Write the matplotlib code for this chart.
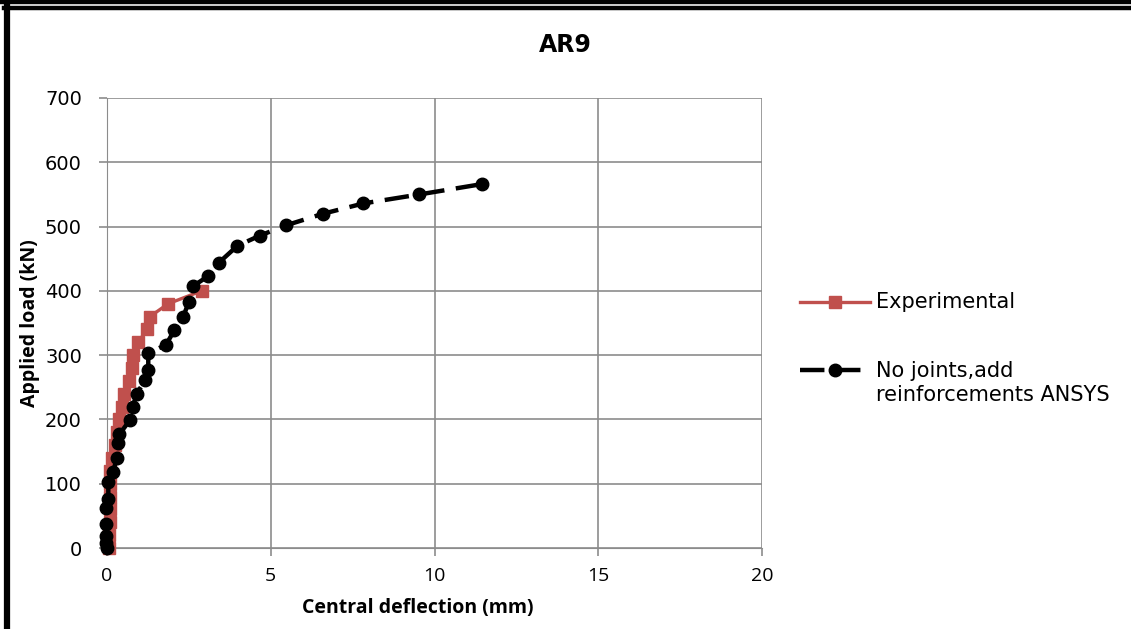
import matplotlib.pyplot as plt
from matplotlib.lines import Line2D

# data
exp_x = [0.05, 0.06, 0.08, 0.09, 0.09, 0.09, 0.09, 0.14, 0.24, 0.30, 0.38, 0.45, 0.53, 0.68,
         0.75, 0.80, 0.96, 1.21, 1.31, 1.87, 2.89]
exp_y = [0, 20, 40, 60, 80, 100, 120, 140, 160, 180, 200, 220, 240, 260,
         280, 300, 320, 340, 360, 380, 400]

ans_x = [0.0, -0.02, -0.03, -0.03, -0.03, 0.04, 0.04, 0.19, 0.30, 0.35, 0.38, 0.70, 0.78, 0.91,
         1.16, 1.26, 1.26, 1.80, 2.06, 2.33, 2.50, 2.62, 3.09, 3.42, 3.98, 4.67, 5.47, 6.60,
         7.83, 9.54, 11.44]
ans_y = [0, 8, 19, 38, 62, 77, 103, 119, 140, 163, 177, 199, 219, 240,
         261, 277, 303, 316, 339, 360, 383, 407, 423, 444, 470, 486, 502, 520,
         536, 550, 566]

x_ticks = [0, 5, 10, 15, 20]
y_ticks = [0, 100, 200, 300, 400, 500, 600, 700]

red = '#C0504D'
dash = (5.5, 2.6)

fig = plt.figure(figsize=(11.31, 6.29), dpi=100)
ax = fig.add_axes([107 / 1131, 1 - 548 / 629, 655 / 1131, 450 / 629])

ax.plot(exp_x, exp_y, color=red, lw=2.4, marker='s', ms=8.5,
        mfc=red, mec=red, zorder=3, clip_on=False)
ax.plot(ans_x, ans_y, color='black', lw=3.2, dashes=dash,
        marker='o', ms=9, mfc='black', mec='black', zorder=4, clip_on=False)

ax.set_xlim(0, 20)
ax.set_ylim(0, 700)
ax.set_xticks(x_ticks)
ax.set_yticks(y_ticks)
ax.grid(True, color='#8c8c8c', lw=1.2)
ax.set_axisbelow(True)
for s in ax.spines.values():
    s.set_visible(False)
ax.spines['left'].set_visible(True)
ax.spines['bottom'].set_visible(True)
ax.spines['left'].set_color('#8c8c8c')
ax.spines['bottom'].set_color('#8c8c8c')
ax.tick_params(axis='both', colors='#8c8c8c', length=6, width=1.2,
               labelcolor='black', labelsize=14)
ax.tick_params(axis='y', pad=12)
ax.tick_params(axis='x', pad=8)
for lab in ax.get_yticklabels():
    lab.set_fontfamily('DejaVu Sans')
for lab in ax.get_xticklabels():
    lab.set_fontfamily('Open Sans')

fig.text(565 / 1131, 1 - 45 / 629, 'AR9', ha='center', va='center',
         fontsize=17, fontweight='bold', family='DejaVu Sans')
fig.text(30 / 1131, 1 - 323 / 629, 'Applied load (kN)', ha='center', va='center',
         rotation=90, fontsize=14, fontweight='bold', family='Open Sans')
fig.text(418 / 1131, 1 - 608 / 629, 'Central deflection (mm)', ha='center', va='center',
         fontsize=14, fontweight='bold', family='Open Sans')

# legend drawn by hand in figure coords
h1 = Line2D([800 / 1131, 870 / 1131], [1 - 302 / 629] * 2, transform=fig.transFigure,
            color=red, lw=2.4)
h1m = Line2D([835 / 1131], [1 - 302 / 629], transform=fig.transFigure,
             marker='s', ms=8.5, color=red, lw=0)
h2 = Line2D([800 / 1131, 870 / 1131], [1 - 370 / 629] * 2, transform=fig.transFigure,
            color='black', lw=3.2, dashes=dash)
h2m = Line2D([835 / 1131], [1 - 370 / 629], transform=fig.transFigure,
             marker='o', ms=9, color='black', lw=0)
for h in (h1, h1m, h2, h2m):
    fig.add_artist(h)
fig.text(876 / 1131, 1 - 302 / 629, 'Experimental', ha='left', va='center',
         fontsize=15, family='DejaVu Sans')
fig.text(876 / 1131, 1 - 383 / 629, 'No joints,add\nreinforcements ANSYS', ha='left',
         va='center', fontsize=15, family='DejaVu Sans', linespacing=1.3)

# page border lines
fig.add_artist(Line2D([0, 1], [1 - 2 / 629] * 2, transform=fig.transFigure,
                      color='black', lw=3.2))
fig.add_artist(Line2D([4 / 1131, 1], [1 - 8 / 629] * 2, transform=fig.transFigure,
                      color='black', lw=3.2))
fig.add_artist(Line2D([7 / 1131] * 2, [0, 1 - 6 / 629], transform=fig.transFigure,
                      color='black', lw=4.5))

fig.savefig('out.png', dpi=100)
